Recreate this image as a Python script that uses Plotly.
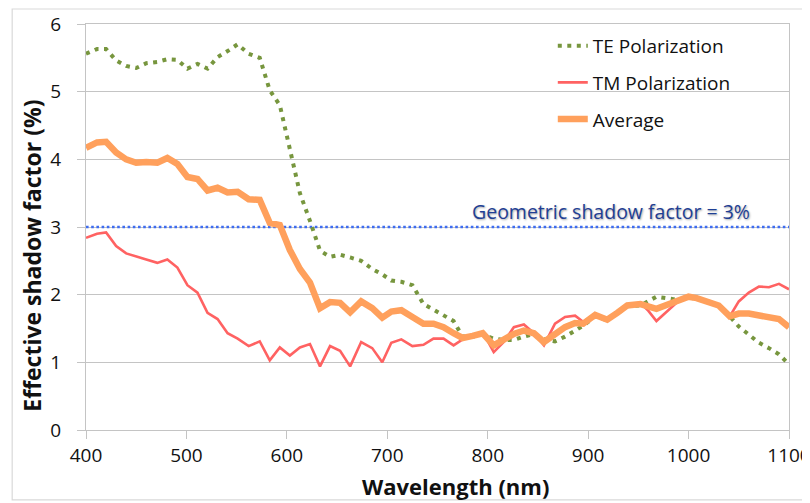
import plotly.graph_objects as go

wavelength = [400, 411, 420, 430, 440, 450, 460, 471, 481, 491,
              501, 511, 521, 531, 541, 551, 562, 573, 583, 593,
              603, 613, 623, 633, 643, 653, 663, 674, 685, 695,
              704, 714, 725, 736, 746, 756, 766, 775, 785, 795,
              806, 816, 826, 836, 846, 856, 867, 877, 887, 895,
              907, 919, 929, 939, 952, 960, 968, 982, 991, 1000,
              1008, 1015, 1023, 1030, 1041, 1050, 1060, 1070, 1080, 1090, 1100]

te = [5.56, 5.63, 5.63, 5.46, 5.38, 5.35, 5.42, 5.44, 5.48, 5.47,
      5.34, 5.41, 5.34, 5.51, 5.60, 5.70, 5.56, 5.50, 5.02, 4.80,
      4.15, 3.50, 3.09, 2.65, 2.56, 2.59, 2.55, 2.50, 2.38, 2.30,
      2.21, 2.19, 2.14, 1.86, 1.78, 1.70, 1.61, 1.38, 1.38, 1.41,
      1.35, 1.33, 1.33, 1.38, 1.42, 1.34, 1.31, 1.38, 1.47, 1.54,
      1.68, 1.62, 1.72, 1.83, 1.84, 1.90, 1.97, 1.94, 1.92, 1.96,
      1.94, 1.91, 1.87, 1.83, 1.68, 1.53, 1.41, 1.29, 1.21, 1.12, 0.97]

tm = [2.84, 2.90, 2.92, 2.72, 2.61, 2.57, 2.52, 2.47, 2.52, 2.40,
      2.14, 2.03, 1.73, 1.64, 1.43, 1.35, 1.24, 1.31, 1.03, 1.22,
      1.10, 1.22, 1.27, 0.94, 1.24, 1.17, 0.94, 1.30, 1.21, 1.00,
      1.29, 1.34, 1.24, 1.26, 1.35, 1.35, 1.25, 1.34, 1.39, 1.45,
      1.15, 1.30, 1.52, 1.56, 1.43, 1.25, 1.57, 1.67, 1.69, 1.60,
      1.72, 1.64, 1.75, 1.85, 1.88, 1.76, 1.61, 1.80, 1.92, 1.98,
      1.96, 1.93, 1.89, 1.85, 1.68, 1.90, 2.03, 2.12, 2.11, 2.16, 2.08]

average = [4.17, 4.25, 4.26, 4.10, 4.00, 3.95, 3.96, 3.95, 4.02, 3.93,
           3.74, 3.71, 3.54, 3.58, 3.51, 3.52, 3.41, 3.40, 3.06, 3.03,
           2.66, 2.38, 2.18, 1.80, 1.89, 1.88, 1.74, 1.90, 1.80, 1.66,
           1.75, 1.77, 1.67, 1.57, 1.57, 1.52, 1.43, 1.36, 1.39, 1.43,
           1.25, 1.33, 1.42, 1.47, 1.43, 1.30, 1.43, 1.52, 1.58, 1.57,
           1.70, 1.63, 1.73, 1.84, 1.86, 1.83, 1.79, 1.87, 1.92, 1.97,
           1.95, 1.92, 1.88, 1.84, 1.68, 1.72, 1.72, 1.70, 1.67, 1.64, 1.52]

geometric_x = [400, 1100]
geometric_y = [3, 3]
geometric_label = "Geometric shadow factor = 3%"

x_ticks = [400, 500, 600, 700, 800, 900, 1000, 1100]
y_ticks = [0, 1, 2, 3, 4, 5, 6]

FONT = "'Open Sans', 'Noto Sans', 'DejaVu Sans', sans-serif"
GRID = "#C4C4C4"
TXT = "#111111"

fig = go.Figure()

fig.add_trace(go.Scatter(
    x=geometric_x, y=geometric_y, mode="lines", showlegend=False,
    line=dict(color="#3D6CF0", width=2.6, dash="2.6px,2.6px"),
    hoverinfo="skip"))

fig.add_trace(go.Scatter(
    x=wavelength, y=te, mode="lines", name="TE Polarization",
    legendgroup="te",
    line=dict(color="#77963E", width=4, dash="4px,5.5px")))

fig.add_trace(go.Scatter(
    x=wavelength, y=tm, mode="lines", name="TM Polarization",
    legendgroup="tm",
    line=dict(color="#FF6262", width=2.6)))

fig.add_trace(go.Scatter(
    x=wavelength, y=average, mode="lines", name="Average",
    legendgroup="avg",
    line=dict(color="#FFA05C", width=6.5)))

fig.update_layout(
    width=802, height=495,
    margin=dict(l=78, r=21, t=16, b=73),
    paper_bgcolor="white", plot_bgcolor="white",
    font=dict(family=FONT, size=17, color=TXT),
    showlegend=True,
    legend=dict(
        x=0.664, y=0.993, xanchor="left", yanchor="top",
        bgcolor="rgba(255,255,255,0)",
        font=dict(family=FONT, size=19, color=TXT),
        tracegroupgap=9, traceorder="grouped"),
    xaxis=dict(
        range=[400, 1100], tickvals=x_ticks,
        ticktext=[str(v) for v in x_ticks],
        showgrid=False, zeroline=False, automargin=False,
        ticklabeloverflow="allow",
        showline=True, linecolor=GRID, linewidth=1.3, mirror=True,
        ticks="outside", ticklen=8, tickcolor=GRID, tickwidth=1.3,
        tickfont=dict(family=FONT, size=19, color=TXT)),
    yaxis=dict(
        range=[0, 6], tickvals=y_ticks,
        showgrid=True, gridcolor=GRID, gridwidth=1.3, zeroline=False,
        automargin=False,
        showline=True, linecolor=GRID, linewidth=1.3, mirror=True,
        ticks="outside", ticklen=8, tickcolor=GRID, tickwidth=1.3,
        tickfont=dict(family=FONT, size=19, color=TXT),
        ticklabelstandoff=12),
    shapes=[dict(type="rect", xref="paper", yref="paper",
                 x0=-0.105, x1=1.06, y0=-0.172, y1=1.037,
                 line=dict(color="#D9D9D9", width=1.2), layer="below")],
    annotations=[
        dict(text="<b>Effective shadow factor (%)</b>", textangle=-90,
             xref="paper", yref="paper", x=-0.077, y=0.429,
             xanchor="center", yanchor="middle", showarrow=False,
             font=dict(family=FONT, size=23, color=TXT)),
        dict(text="<b>Wavelength (nm)</b>",
             xref="paper", yref="paper", x=0.526, y=-0.138,
             xanchor="center", yanchor="middle", showarrow=False,
             font=dict(family=FONT, size=22, color=TXT)),
        dict(text=geometric_label, xref="x", yref="y",
             x=1063, y=3.0, xanchor="right", yanchor="bottom",
             yshift=0, showarrow=False,
             font=dict(family=FONT, size=19.5, color="#1F3F94",
                       shadow="1px 1px 2px rgba(0,0,0,0.35)")),
    ],
)

fig.write_html("out.html")
